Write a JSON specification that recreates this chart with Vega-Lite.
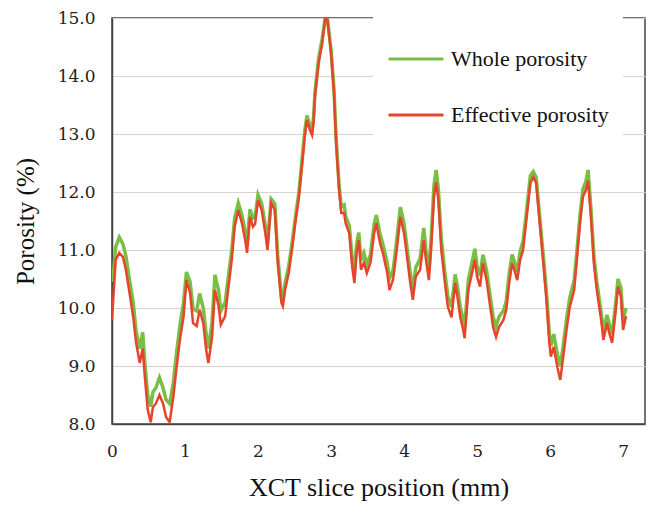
{
  "$schema": "https://vega.github.io/schema/vega-lite/v6.json",
  "width": 533,
  "height": 406,
  "autosize": {"type": "none"},
  "padding": {"left": 112, "top": 18, "right": 6, "bottom": 82},
  "background": "white",
  "config": {
    "view": {"stroke": "#444444", "strokeWidth": 1.5},
    "font": "Liberation Serif"
  },
  "data": {
    "values": [
      {"pos": 0.0, "Whole porosity": 10.45, "Effective porosity": 9.8},
      {"pos": 0.02, "Whole porosity": 10.6, "Effective porosity": 10.2},
      {"pos": 0.05, "Whole porosity": 11.05, "Effective porosity": 10.83},
      {"pos": 0.1, "Whole porosity": 11.22, "Effective porosity": 10.95},
      {"pos": 0.15, "Whole porosity": 11.1, "Effective porosity": 10.88},
      {"pos": 0.19, "Whole porosity": 10.9, "Effective porosity": 10.66},
      {"pos": 0.24, "Whole porosity": 10.48, "Effective porosity": 10.26},
      {"pos": 0.29, "Whole porosity": 10.1, "Effective porosity": 9.85},
      {"pos": 0.33, "Whole porosity": 9.6, "Effective porosity": 9.4},
      {"pos": 0.38, "Whole porosity": 9.3, "Effective porosity": 9.05},
      {"pos": 0.42, "Whole porosity": 9.58, "Effective porosity": 9.3},
      {"pos": 0.45, "Whole porosity": 9.05, "Effective porosity": 8.81},
      {"pos": 0.49, "Whole porosity": 8.5, "Effective porosity": 8.24},
      {"pos": 0.53, "Whole porosity": 8.3, "Effective porosity": 8.03},
      {"pos": 0.56, "Whole porosity": 8.55, "Effective porosity": 8.29},
      {"pos": 0.6, "Whole porosity": 8.62, "Effective porosity": 8.35},
      {"pos": 0.65, "Whole porosity": 8.8, "Effective porosity": 8.5},
      {"pos": 0.7, "Whole porosity": 8.62, "Effective porosity": 8.35},
      {"pos": 0.74, "Whole porosity": 8.42, "Effective porosity": 8.12},
      {"pos": 0.79, "Whole porosity": 8.35, "Effective porosity": 8.03},
      {"pos": 0.84, "Whole porosity": 8.72, "Effective porosity": 8.47},
      {"pos": 0.88, "Whole porosity": 9.18, "Effective porosity": 8.93},
      {"pos": 0.93, "Whole porosity": 9.7, "Effective porosity": 9.45},
      {"pos": 0.98, "Whole porosity": 10.1, "Effective porosity": 9.85},
      {"pos": 1.02, "Whole porosity": 10.62, "Effective porosity": 10.48},
      {"pos": 1.07, "Whole porosity": 10.45, "Effective porosity": 10.26},
      {"pos": 1.11, "Whole porosity": 9.98, "Effective porosity": 9.74},
      {"pos": 1.16, "Whole porosity": 9.95, "Effective porosity": 9.69},
      {"pos": 1.2, "Whole porosity": 10.25, "Effective porosity": 9.97},
      {"pos": 1.25, "Whole porosity": 10.0, "Effective porosity": 9.74},
      {"pos": 1.29, "Whole porosity": 9.55, "Effective porosity": 9.28},
      {"pos": 1.32, "Whole porosity": 9.3, "Effective porosity": 9.05},
      {"pos": 1.37, "Whole porosity": 9.75, "Effective porosity": 9.5},
      {"pos": 1.41, "Whole porosity": 10.57, "Effective porosity": 10.31},
      {"pos": 1.46, "Whole porosity": 10.3, "Effective porosity": 10.03},
      {"pos": 1.49, "Whole porosity": 9.95, "Effective porosity": 9.71},
      {"pos": 1.55, "Whole porosity": 10.1, "Effective porosity": 9.86},
      {"pos": 1.59, "Whole porosity": 10.5, "Effective porosity": 10.31},
      {"pos": 1.64, "Whole porosity": 11.0, "Effective porosity": 10.83},
      {"pos": 1.68, "Whole porosity": 11.55, "Effective porosity": 11.4},
      {"pos": 1.73, "Whole porosity": 11.81, "Effective porosity": 11.69},
      {"pos": 1.78, "Whole porosity": 11.6, "Effective porosity": 11.46},
      {"pos": 1.82, "Whole porosity": 11.35, "Effective porosity": 11.2},
      {"pos": 1.85, "Whole porosity": 11.1, "Effective porosity": 10.95},
      {"pos": 1.89, "Whole porosity": 11.7, "Effective porosity": 11.57},
      {"pos": 1.93, "Whole porosity": 11.55, "Effective porosity": 11.4},
      {"pos": 1.96, "Whole porosity": 11.58, "Effective porosity": 11.45},
      {"pos": 2.0, "Whole porosity": 11.95, "Effective porosity": 11.86},
      {"pos": 2.05, "Whole porosity": 11.8, "Effective porosity": 11.69},
      {"pos": 2.1, "Whole porosity": 11.42, "Effective porosity": 11.29},
      {"pos": 2.13, "Whole porosity": 11.12, "Effective porosity": 11.0},
      {"pos": 2.18, "Whole porosity": 11.88, "Effective porosity": 11.81},
      {"pos": 2.23, "Whole porosity": 11.8, "Effective porosity": 11.69},
      {"pos": 2.27, "Whole porosity": 10.9, "Effective porosity": 10.78},
      {"pos": 2.32, "Whole porosity": 10.2, "Effective porosity": 10.09},
      {"pos": 2.34, "Whole porosity": 10.12, "Effective porosity": 10.03},
      {"pos": 2.37, "Whole porosity": 10.42, "Effective porosity": 10.31},
      {"pos": 2.42, "Whole porosity": 10.72, "Effective porosity": 10.6},
      {"pos": 2.47, "Whole porosity": 11.15, "Effective porosity": 11.05},
      {"pos": 2.51, "Whole porosity": 11.55, "Effective porosity": 11.46},
      {"pos": 2.56, "Whole porosity": 12.0, "Effective porosity": 11.91},
      {"pos": 2.6, "Whole porosity": 12.52, "Effective porosity": 12.43},
      {"pos": 2.64, "Whole porosity": 13.05, "Effective porosity": 12.95},
      {"pos": 2.67, "Whole porosity": 13.32, "Effective porosity": 13.24},
      {"pos": 2.71, "Whole porosity": 13.15, "Effective porosity": 13.07},
      {"pos": 2.74, "Whole porosity": 13.07, "Effective porosity": 12.98},
      {"pos": 2.76, "Whole porosity": 13.28, "Effective porosity": 13.19},
      {"pos": 2.78, "Whole porosity": 13.72, "Effective porosity": 13.64},
      {"pos": 2.83, "Whole porosity": 14.3, "Effective porosity": 14.22},
      {"pos": 2.88, "Whole porosity": 14.65, "Effective porosity": 14.57},
      {"pos": 2.92, "Whole porosity": 15.0, "Effective porosity": 15.0},
      {"pos": 2.95, "Whole porosity": 15.0, "Effective porosity": 14.97},
      {"pos": 3.0, "Whole porosity": 14.45, "Effective porosity": 14.4},
      {"pos": 3.04, "Whole porosity": 13.78, "Effective porosity": 13.71},
      {"pos": 3.07, "Whole porosity": 12.92, "Effective porosity": 12.84},
      {"pos": 3.11, "Whole porosity": 12.12, "Effective porosity": 12.03},
      {"pos": 3.14, "Whole porosity": 11.75, "Effective porosity": 11.64},
      {"pos": 3.18, "Whole porosity": 11.78, "Effective porosity": 11.64},
      {"pos": 3.2, "Whole porosity": 11.58, "Effective porosity": 11.46},
      {"pos": 3.25, "Whole porosity": 11.42, "Effective porosity": 11.29},
      {"pos": 3.29, "Whole porosity": 10.85, "Effective porosity": 10.71},
      {"pos": 3.32, "Whole porosity": 10.6, "Effective porosity": 10.43},
      {"pos": 3.35, "Whole porosity": 11.1, "Effective porosity": 10.95},
      {"pos": 3.38, "Whole porosity": 11.3, "Effective porosity": 11.17},
      {"pos": 3.41, "Whole porosity": 10.82, "Effective porosity": 10.66},
      {"pos": 3.45, "Whole porosity": 10.95, "Effective porosity": 10.78},
      {"pos": 3.49, "Whole porosity": 10.75, "Effective porosity": 10.6},
      {"pos": 3.54, "Whole porosity": 10.92, "Effective porosity": 10.78},
      {"pos": 3.59, "Whole porosity": 11.45, "Effective porosity": 11.29},
      {"pos": 3.62, "Whole porosity": 11.6, "Effective porosity": 11.46},
      {"pos": 3.67, "Whole porosity": 11.28, "Effective porosity": 11.12},
      {"pos": 3.71, "Whole porosity": 11.1, "Effective porosity": 10.95},
      {"pos": 3.77, "Whole porosity": 10.78, "Effective porosity": 10.6},
      {"pos": 3.8, "Whole porosity": 10.5, "Effective porosity": 10.31},
      {"pos": 3.85, "Whole porosity": 10.65, "Effective porosity": 10.49},
      {"pos": 3.9, "Whole porosity": 11.18, "Effective porosity": 11.0},
      {"pos": 3.95, "Whole porosity": 11.74, "Effective porosity": 11.57},
      {"pos": 4.0, "Whole porosity": 11.45, "Effective porosity": 11.29},
      {"pos": 4.03, "Whole porosity": 11.15, "Effective porosity": 11.0},
      {"pos": 4.08, "Whole porosity": 10.65, "Effective porosity": 10.48},
      {"pos": 4.12, "Whole porosity": 10.32, "Effective porosity": 10.14},
      {"pos": 4.16, "Whole porosity": 10.7, "Effective porosity": 10.54},
      {"pos": 4.22, "Whole porosity": 10.85, "Effective porosity": 10.66},
      {"pos": 4.27, "Whole porosity": 11.38, "Effective porosity": 11.17},
      {"pos": 4.3, "Whole porosity": 11.0, "Effective porosity": 10.83},
      {"pos": 4.34, "Whole porosity": 10.65, "Effective porosity": 10.48},
      {"pos": 4.37, "Whole porosity": 11.18, "Effective porosity": 11.0},
      {"pos": 4.41, "Whole porosity": 12.12, "Effective porosity": 11.92},
      {"pos": 4.44, "Whole porosity": 12.38, "Effective porosity": 12.17},
      {"pos": 4.47, "Whole porosity": 12.05, "Effective porosity": 11.86},
      {"pos": 4.51, "Whole porosity": 11.2, "Effective porosity": 11.0},
      {"pos": 4.56, "Whole porosity": 10.6, "Effective porosity": 10.43},
      {"pos": 4.6, "Whole porosity": 10.2, "Effective porosity": 10.02},
      {"pos": 4.65, "Whole porosity": 10.02, "Effective porosity": 9.84},
      {"pos": 4.7, "Whole porosity": 10.58, "Effective porosity": 10.43},
      {"pos": 4.73, "Whole porosity": 10.38, "Effective porosity": 10.2},
      {"pos": 4.77, "Whole porosity": 10.02, "Effective porosity": 9.84},
      {"pos": 4.81, "Whole porosity": 9.8, "Effective porosity": 9.62},
      {"pos": 4.83, "Whole porosity": 9.66, "Effective porosity": 9.48},
      {"pos": 4.88, "Whole porosity": 10.48, "Effective porosity": 10.31},
      {"pos": 4.92, "Whole porosity": 10.72, "Effective porosity": 10.54},
      {"pos": 4.97, "Whole porosity": 11.02, "Effective porosity": 10.83},
      {"pos": 5.0, "Whole porosity": 10.72, "Effective porosity": 10.54},
      {"pos": 5.04, "Whole porosity": 10.55, "Effective porosity": 10.37},
      {"pos": 5.08, "Whole porosity": 10.92, "Effective porosity": 10.77},
      {"pos": 5.13, "Whole porosity": 10.65, "Effective porosity": 10.48},
      {"pos": 5.18, "Whole porosity": 10.2, "Effective porosity": 10.02},
      {"pos": 5.22, "Whole porosity": 9.85, "Effective porosity": 9.67},
      {"pos": 5.26, "Whole porosity": 9.68, "Effective porosity": 9.5},
      {"pos": 5.3, "Whole porosity": 9.85, "Effective porosity": 9.67},
      {"pos": 5.36, "Whole porosity": 9.95, "Effective porosity": 9.79},
      {"pos": 5.4, "Whole porosity": 10.12, "Effective porosity": 9.97},
      {"pos": 5.44, "Whole porosity": 10.6, "Effective porosity": 10.43},
      {"pos": 5.48, "Whole porosity": 10.92, "Effective porosity": 10.77},
      {"pos": 5.51, "Whole porosity": 10.8, "Effective porosity": 10.66},
      {"pos": 5.55, "Whole porosity": 10.62, "Effective porosity": 10.48},
      {"pos": 5.59, "Whole porosity": 10.98, "Effective porosity": 10.83},
      {"pos": 5.63, "Whole porosity": 11.15, "Effective porosity": 11.0},
      {"pos": 5.68, "Whole porosity": 11.7, "Effective porosity": 11.57},
      {"pos": 5.73, "Whole porosity": 12.28, "Effective porosity": 12.15},
      {"pos": 5.77, "Whole porosity": 12.35, "Effective porosity": 12.26},
      {"pos": 5.81, "Whole porosity": 12.25, "Effective porosity": 12.15},
      {"pos": 5.85, "Whole porosity": 11.68, "Effective porosity": 11.57},
      {"pos": 5.9, "Whole porosity": 11.0, "Effective porosity": 10.88},
      {"pos": 5.95, "Whole porosity": 10.28, "Effective porosity": 10.14},
      {"pos": 5.99, "Whole porosity": 9.55, "Effective porosity": 9.4},
      {"pos": 6.01, "Whole porosity": 9.35, "Effective porosity": 9.16},
      {"pos": 6.05, "Whole porosity": 9.55, "Effective porosity": 9.33},
      {"pos": 6.1, "Whole porosity": 9.2, "Effective porosity": 8.98},
      {"pos": 6.14, "Whole porosity": 9.0, "Effective porosity": 8.76},
      {"pos": 6.18, "Whole porosity": 9.35, "Effective porosity": 9.16},
      {"pos": 6.23, "Whole porosity": 9.85, "Effective porosity": 9.67},
      {"pos": 6.27, "Whole porosity": 10.18, "Effective porosity": 10.02},
      {"pos": 6.33, "Whole porosity": 10.48, "Effective porosity": 10.31},
      {"pos": 6.37, "Whole porosity": 11.02, "Effective porosity": 10.88},
      {"pos": 6.41, "Whole porosity": 11.6, "Effective porosity": 11.46},
      {"pos": 6.45, "Whole porosity": 12.05, "Effective porosity": 11.92},
      {"pos": 6.49, "Whole porosity": 12.18, "Effective porosity": 12.03},
      {"pos": 6.52, "Whole porosity": 12.38, "Effective porosity": 12.2},
      {"pos": 6.56, "Whole porosity": 11.7, "Effective porosity": 11.57},
      {"pos": 6.6, "Whole porosity": 10.9, "Effective porosity": 10.77},
      {"pos": 6.64, "Whole porosity": 10.45, "Effective porosity": 10.31},
      {"pos": 6.7, "Whole porosity": 9.92, "Effective porosity": 9.79},
      {"pos": 6.73, "Whole porosity": 9.6, "Effective porosity": 9.45},
      {"pos": 6.78, "Whole porosity": 9.88, "Effective porosity": 9.74},
      {"pos": 6.81, "Whole porosity": 9.72, "Effective porosity": 9.57},
      {"pos": 6.85, "Whole porosity": 9.55, "Effective porosity": 9.4},
      {"pos": 6.9, "Whole porosity": 10.1, "Effective porosity": 9.97},
      {"pos": 6.93, "Whole porosity": 10.5, "Effective porosity": 10.37},
      {"pos": 6.97, "Whole porosity": 10.35, "Effective porosity": 10.2},
      {"pos": 7.0, "Whole porosity": 9.8, "Effective porosity": 9.62},
      {"pos": 7.04, "Whole porosity": 10.0, "Effective porosity": 9.86}
    ]
  },
  "encoding": {
    "x": {
      "field": "pos",
      "type": "quantitative",
      "scale": {"domain": [0, 7.3], "nice": false, "zero": false},
      "axis": {
        "title": "XCT slice position (mm)",
        "values": [0, 1, 2, 3, 4, 5, 6, 7],
        "format": "d",
        "grid": false,
        "ticks": false,
        "labelPadding": 19,
        "labelFont": "DejaVu Serif",
        "labelFontSize": 17,
        "labelColor": "#222222",
        "labelFlush": false,
        "domainColor": "#444444",
        "domainWidth": 1.5,
        "titleFont": "Liberation Serif",
        "titleFontSize": 26,
        "titleFontWeight": "normal",
        "titleColor": "#111111",
        "titlePadding": 15
      }
    }
  },
  "layer": [
    {
      "mark": {"type": "line", "strokeWidth": 3.5, "clip": true},
      "encoding": {
        "y": {
          "field": "Whole porosity",
          "type": "quantitative",
          "scale": {"domain": [8, 15], "nice": false, "zero": false},
          "axis": {
            "title": "Porosity (%)",
            "values": [8, 9, 10, 11, 12, 13, 14, 15],
            "format": ".1f",
            "grid": true,
            "gridColor": "#d8d3cf",
            "gridWidth": 1.2,
            "ticks": false,
            "labelPadding": 17,
            "labelFont": "DejaVu Serif",
            "labelFontSize": 17,
            "labelColor": "#222222",
            "labelFlush": false,
            "domainColor": "#444444",
            "domainWidth": 1.5,
            "titleFont": "Liberation Serif",
            "titleFontSize": 25,
            "titleFontWeight": "normal",
            "titleColor": "#111111",
            "titlePadding": 19
          }
        },
        "color": {
          "datum": "Whole porosity",
          "type": "nominal",
          "scale": {
            "domain": ["Whole porosity", "Effective porosity"],
            "range": ["#79bf46", "#e8432b"]
          },
          "legend": {
            "title": null,
            "orient": "none",
            "legendX": 261,
            "legendY": -2,
            "padding": 14,
            "fillColor": "white",
            "strokeColor": null,
            "symbolType": "stroke",
            "symbolSize": 3025,
            "symbolStrokeWidth": 3,
            "rowPadding": 16,
            "labelOffset": 6,
            "labelFont": "Liberation Serif",
            "labelFontSize": 22,
            "labelColor": "#111111",
            "labelLimit": 400
          }
        }
      }
    },
    {
      "mark": {"type": "line", "strokeWidth": 2.5, "clip": true},
      "encoding": {
        "y": {"field": "Effective porosity", "type": "quantitative"},
        "color": {"datum": "Effective porosity", "type": "nominal"}
      }
    }
  ]
}
